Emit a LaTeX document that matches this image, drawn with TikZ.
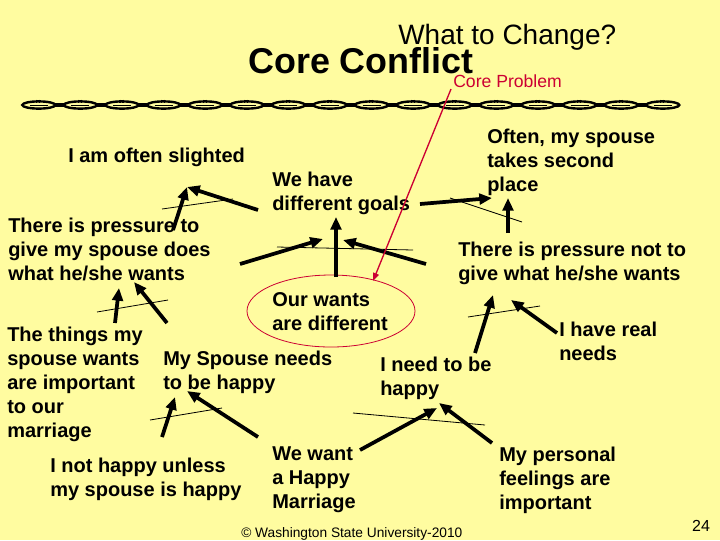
\documentclass[tikz,border=0pt]{standalone}
\usepackage{fontspec}
\setmainfont{Liberation Sans}
\usetikzlibrary{arrows.meta,shapes.geometric}
\definecolor{bgyel}{RGB}{255,252,160}
\definecolor{corered}{RGB}{204,0,51}
\tikzset{
  lbl/.style={anchor=north west,inner sep=0pt,align=left,font=\fontsize{15}{18}\selectfont\bfseries},
  thickarrow/.style={line width=2.8pt,-{Triangle[length=9.5pt,width=8pt]}},
  thinline/.style={line width=0.6pt},
  redarrow/.style={corered,line width=1pt,-{Triangle[length=6pt,width=4.5pt]}},
  chainlink/.style={line width=1.8pt},
}
\begin{document}
\begin{tikzpicture}[x=0.75pt,y=-0.75pt]
\fill[bgyel] (0,0) rectangle (720,540);
\useasboundingbox (0,0) rectangle (720,540);

% titles
\node[anchor=base west,inner sep=0pt,font=\fontsize{21}{24}\selectfont] (wtc) at (398,44) {What to Change?};
\node[anchor=base west,inner sep=0pt,font=\fontsize{26.9}{30}\selectfont\bfseries] (cc) at (248,73) {Core Conflict};
\node[anchor=base west,inner sep=0pt,font=\fontsize{13.2}{15}\selectfont,text=corered] (cp) at (453,87) {Core Problem};

% chain decoration
\foreach \i in {0,...,15}{
  \pgfmathsetmacro{\cx}{18+20.8+41.6*\i}
  \draw[chainlink] (\cx,105) ellipse [x radius=16.5,y radius=3.6];
  \draw[line width=0.6pt] (\cx-9,105) -- (\cx+9,105);
  \draw[line width=0.8pt] (\cx-2,99.5) -- (\cx-2,102.5) (\cx+1,99.5) -- (\cx+1,102.5);
}
\foreach \i in {0,...,14}{
  \pgfmathsetmacro{\jx}{18+41.6*(\i+1)}
  \draw[line width=2.4pt] (\jx-5,105) -- (\jx+5,105);
}

% text nodes
\node[lbl] (slight) at (68,148) {I am often slighted};
\node[lbl] (goals) at (272,172) {We have\\different goals};
\node[lbl] (second) at (487,129) {Often, my spouse\\takes second\\place};
\node[lbl] (press) at (8,218) {There is pressure to\\give my spouse does\\what he/she wants};
\node[lbl] (pressnot) at (458,242) {There is pressure not to\\give what he/she wants};
\node[lbl] (wants) at (272,292) {Our wants\\are different};
\node[draw=corered,line width=0.6pt,ellipse,minimum width=126pt,minimum height=54pt,inner sep=0pt] (ring) at (331,311) {};
\node[lbl] (things) at (7,327) {The things my\\spouse wants\\are important\\to our\\marriage};
\node[lbl] (spneeds) at (163,351) {My Spouse needs\\to be happy};
\node[lbl] (ineed) at (380,357) {I need to be\\happy};
\node[lbl] (real) at (559,322) {I have real\\needs};
\node[lbl] (unless) at (50,458) {I not happy unless\\my spouse is happy};
\node[lbl] (marriage) at (272,446) {We want\\a Happy\\Marriage};
\node[lbl] (feel) at (499,447) {My personal\\feelings are\\important};

\node[anchor=base west,inner sep=0pt,font=\fontsize{10.3}{12}\selectfont] (foot) at (241,537) {\textcopyright{} Washington State University-2010};
\node[anchor=base,inner sep=0pt,font=\fontsize{12}{14}\selectfont] (pg) at (701,531) {24};

% coordinates
\coordinate (a1s) at (258,210); \coordinate (a1e) at (187,187);
\coordinate (a2s) at (173,230);
\coordinate (t1a) at (162,209); \coordinate (t1b) at (233,199);
\coordinate (a3s) at (240,264); \coordinate (a3e) at (323,239);
\coordinate (a4s) at (336,277); \coordinate (a4e) at (336,217);
\coordinate (a5s) at (426,264); \coordinate (a5e) at (343,240);
\coordinate (t2a) at (277,247); \coordinate (t2b) at (413,250);
\coordinate (a6s) at (420,204); \coordinate (a6e) at (492,198);
\coordinate (a7s) at (508,233); \coordinate (a7e) at (508,198);
\coordinate (t3a) at (450,198); \coordinate (t3b) at (522,222);
\coordinate (a8s) at (115,323); \coordinate (a8e) at (119,288);
\coordinate (a9s) at (167,323); \coordinate (a9e) at (134,282);
\coordinate (t4a) at (97,312); \coordinate (t4b) at (168,300);
\coordinate (a10s) at (162,437); \coordinate (a10e) at (175,397);
\coordinate (a11s) at (258,437); \coordinate (a11e) at (187,391);
\coordinate (t5a) at (150,420); \coordinate (t5b) at (222,408);
\coordinate (a12s) at (360,450); \coordinate (a12e) at (437,408);
\coordinate (a13s) at (492,443); \coordinate (a13e) at (439,403);
\coordinate (t6a) at (353,413); \coordinate (t6b) at (485,425);
\coordinate (a14s) at (475,353); \coordinate (a14e) at (493,295);
\coordinate (a15s) at (557,333); \coordinate (a15e) at (511,300);
\coordinate (t7a) at (468,317); \coordinate (t7b) at (540,306);
\coordinate (rs) at (451,89); \coordinate (re) at (373,281);

% connectors
\draw[thinline] (t1a) -- (t1b);
\draw[thinline] (t2a) -- (t2b);
\draw[thinline] (t3a) -- (t3b);
\draw[thinline] (t4a) -- (t4b);
\draw[thinline] (t5a) -- (t5b);
\draw[thinline] (t6a) -- (t6b);
\draw[thinline] (t7a) -- (t7b);
\draw[thickarrow] (a1s) -- (a1e);
\draw[thickarrow] (a2s) -- (a1e);
\draw[thickarrow] (a3s) -- (a3e);
\draw[thickarrow] (a4s) -- (a4e);
\draw[thickarrow] (a5s) -- (a5e);
\draw[thickarrow] (a6s) -- (a6e);
\draw[thickarrow] (a7s) -- (a7e);
\draw[thickarrow] (a8s) -- (a8e);
\draw[thickarrow] (a9s) -- (a9e);
\draw[thickarrow] (a10s) -- (a10e);
\draw[thickarrow] (a11s) -- (a11e);
\draw[thickarrow] (a12s) -- (a12e);
\draw[thickarrow] (a13s) -- (a13e);
\draw[thickarrow] (a14s) -- (a14e);
\draw[thickarrow] (a15s) -- (a15e);
\draw[redarrow] (rs) -- (re);
\end{tikzpicture}
\end{document}
